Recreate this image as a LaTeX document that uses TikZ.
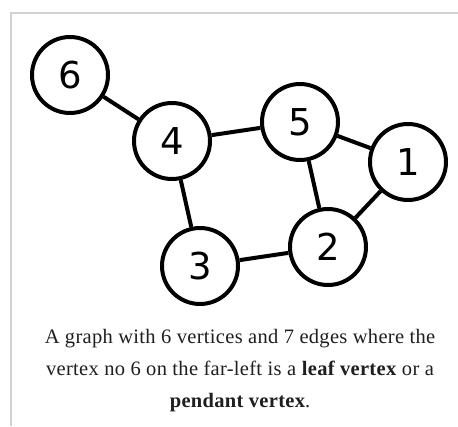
\documentclass[tikz,border=0pt]{standalone}
\usepackage{fontspec}
\setmainfont{Liberation Serif}
\newfontfamily\vertexfont{DejaVu Sans}
\begin{document}
\begin{tikzpicture}[x=1pt,y=-1pt,
  vertex/.style={circle, draw=black, line width=4pt, minimum size=76pt, inner sep=0pt,
    fill=white, font=\vertexfont\fontsize{37}{40}\selectfont},
  link/.style={line width=4pt, draw=black},
  frame/.style={draw=black!18, line width=1.5pt},
  captionline/.style={anchor=base, inner sep=0pt, text=black!88,
    font=\fontsize{20.5}{24}\selectfont\addfontfeatures{LetterSpace=1.5}}]
  \useasboundingbox (0,0) rectangle (458,426);
  \fill[white] (0,0) rectangle (458,426);
  % panel border (top and left sides)
  \draw[frame] (11,426) -- (11,13) -- (458,13);

  % vertices
  \node[vertex] (v6) at (70,75)   {6};
  \node[vertex] (v4) at (172,141) {4};
  \node[vertex] (v5) at (300,122) {5};
  \node[vertex] (v1) at (408,162) {1};
  \node[vertex] (v2) at (328,247) {2};
  \node[vertex] (v3) at (200,266) {3};

  % edges
  \draw[link] (v6) -- (v4);
  \draw[link] (v4) -- (v5);
  \draw[link] (v4) -- (v3);
  \draw[link] (v5) -- (v1);
  \draw[link] (v5) -- (v2);
  \draw[link] (v1) -- (v2);
  \draw[link] (v3) -- (v2);

  % caption
  \node[captionline] (cap1) at (240,343) {A graph with 6 vertices and 7 edges where the};
  \node[captionline] (cap2) at (240,375) {vertex no 6 on the far-left is a \textbf{leaf vertex} or a};
  \node[captionline] (cap3) at (240,407) {\textbf{pendant vertex}.};
\end{tikzpicture}
\end{document}
